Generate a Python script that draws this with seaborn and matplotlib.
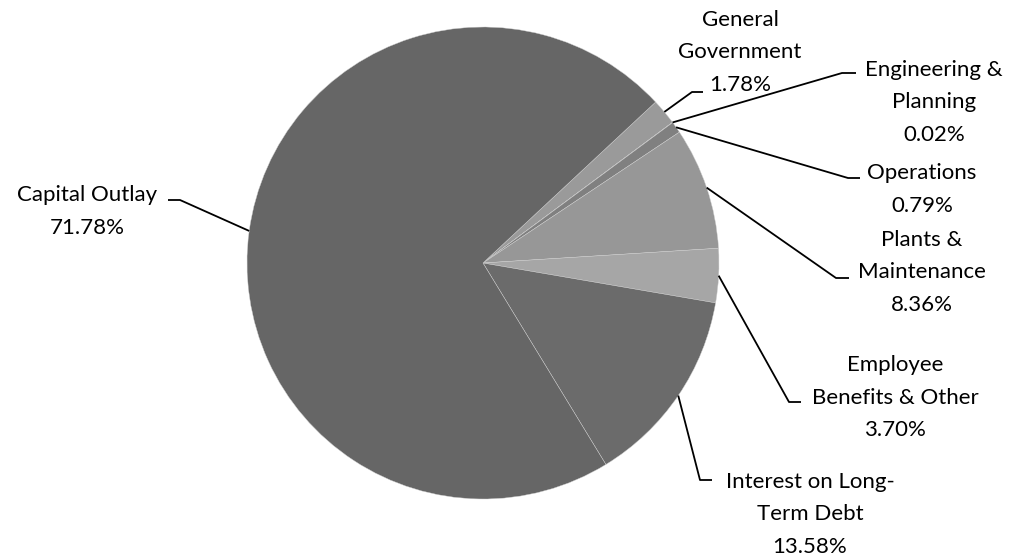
import numpy as np
import matplotlib
matplotlib.use("Agg")
import matplotlib.pyplot as plt
import seaborn as sns

categories = ["General\nGovernment", "Engineering &\nPlanning", "Operations",
              "Plants &\nMaintenance", "Employee\nBenefits & Other",
              "Interest on Long-\nTerm Debt", "Capital Outlay"]
values = [1.78, 0.02, 0.79, 8.36, 3.70, 13.58, 71.78]
colors = ["#9a9a9a", "#8c8c8c", "#808080", "#979797", "#a6a6a6", "#6b6b6b", "#666666"]

sns.set_theme(style="white")
plt.rcParams['font.family'] = ['Lato', 'DejaVu Sans']

W, H = 1014, 557
fig = plt.figure(figsize=(W / 100, H / 100), dpi=100)
ax = fig.add_axes([0, 0, 1, 1])

cx, cy, R = 483, H - 263, 236
wedges, _ = ax.pie(values, colors=colors, startangle=43, counterclock=False,
                   center=(cx, cy), radius=R, frame=True,
                   wedgeprops=dict(edgecolor="#d0d0d0", linewidth=0.3))
ax.set_xlim(0, W)
ax.set_ylim(0, H)
ax.set_aspect('equal')
ax.axis('off')

# label layout: (elbow x, elbow y, end x, text center x, text center y of first line), pixel coords (top-left origin)
layout = [
    (692, 92, 703, 740, 20),
    (842, 73, 856, 934, 70),
    (848, 178, 860, 922, 173),
    (836, 278, 849, 922, 240),
    (789, 402, 801, 895, 365),
    (700, 480, 712, 810, 482),
    (180, 200, 168, 87, 195),
]
line_h = 32.5
for w, cat, val, (ex, ey, hx, tx, ty) in zip(wedges, categories, values, layout):
    mid = np.deg2rad((w.theta1 + w.theta2) / 2)
    ax_, ay_ = cx + R * np.cos(mid), cy + R * np.sin(mid)
    ax.plot([ax_, ex, hx], [ay_, H - ey, H - ey], color="black", lw=1.3,
            solid_capstyle="butt")
    lines = cat.split("\n") + [f"{val:.2f}%"]
    for i, ln in enumerate(lines):
        ax.text(tx, H - (ty + i * line_h), ln, ha="center", va="center",
                fontsize=16, color="black")

fig.savefig("out.png", dpi=100)
